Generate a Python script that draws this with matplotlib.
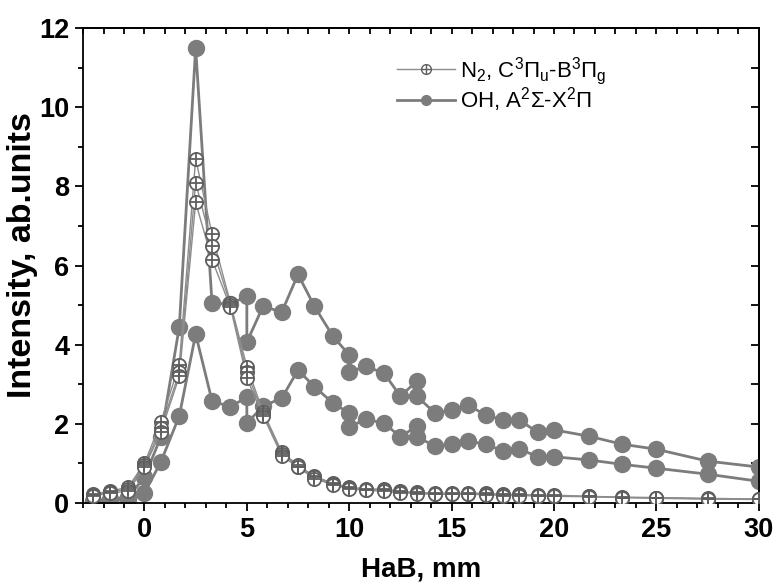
import numpy as np
import matplotlib.pyplot as plt
from matplotlib.ticker import MultipleLocator

plt.rcParams['font.family'] = ['Liberation Sans', 'DejaVu Sans']
plt.rcParams['mathtext.fontset'] = 'custom'
plt.rcParams['mathtext.rm'] = 'Liberation Sans'
plt.rcParams['mathtext.it'] = 'Liberation Sans'

# N2 emission (three measurements)
n2_x = [-2.5, -1.7, -0.8, 0, 0.8, 1.7, 2.5, 3.3, 4.2, 5.0, 5.8, 6.7, 7.5, 8.3, 9.2,
        10.0, 10.8, 11.7, 12.5, 13.3, 14.2, 15.0, 15.8, 16.7, 17.5, 18.3, 19.2,
        20.0, 21.7, 23.3, 25.0, 27.5, 30.0]
n2_a = [0.22, 0.30, 0.40, 1.00, 2.05, 3.50, 8.70, 6.80, 5.05, 3.45, 2.30, 1.30, 0.95,
        0.68, 0.50, 0.40, 0.36, 0.35, 0.30, 0.27, 0.25, 0.25, 0.25, 0.25, 0.22, 0.22,
        0.20, 0.20, 0.17, 0.15, 0.14, 0.12, 0.10]
n2_b = [0.20, 0.28, 0.35, 0.95, 1.90, 3.30, 8.10, 6.50, 5.00, 3.30, 2.25, 1.25, 0.92,
        0.65, 0.48, 0.38, 0.34, 0.33, 0.28, 0.25, 0.23, 0.23, 0.23, 0.23, 0.20, 0.20,
        0.19, 0.18, 0.17, 0.14, 0.13, 0.11, 0.10]
n2_c = [0.18, 0.25, 0.30, 0.90, 1.80, 3.20, 7.60, 6.15, 4.95, 3.15, 2.20, 1.20, 0.90,
        0.62, 0.46, 0.36, 0.32, 0.30, 0.26, 0.24, 0.22, 0.22, 0.22, 0.21, 0.19, 0.19,
        0.18, 0.17, 0.16, 0.14, 0.12, 0.10, 0.09]

# OH emission (two measurements, repeated points where scan ranges join)
oh_x = [-2.5, -1.7, -0.8, 0, 0.8, 1.7, 2.5, 3.3, 4.2, 5.0, 5.0, 5.8, 6.7, 7.5, 8.3,
        9.2, 10.0, 10.0, 10.8, 11.7, 12.5, 13.3, 13.3, 14.2, 15.0, 15.8, 16.7, 17.5,
        18.3, 19.2, 20.0, 21.7, 23.3, 25.0, 27.5, 30.0]
oh_a = [0.05, 0.10, 0.15, 0.65, 1.67, 4.45, 11.5, 5.05, 5.03, 5.23, 4.07, 4.98, 4.82,
        5.78, 4.97, 4.22, 3.74, 3.30, 3.46, 3.28, 2.70, 3.08, 2.70, 2.27, 2.35, 2.47,
        2.22, 2.10, 2.10, 1.79, 1.85, 1.69, 1.49, 1.36, 1.06, 0.91]
oh_b = [0.03, 0.05, 0.10, 0.25, 1.04, 2.20, 4.27, 2.58, 2.43, 2.68, 2.02, 2.45, 2.65,
        3.36, 2.94, 2.53, 2.27, 1.92, 2.12, 2.02, 1.67, 1.95, 1.67, 1.44, 1.50, 1.56,
        1.49, 1.31, 1.37, 1.17, 1.17, 1.09, 0.98, 0.88, 0.73, 0.55]

fig = plt.figure(figsize=(7.79, 5.87), dpi=100)
ax = fig.add_axes([0.1066, 0.143, 0.8674, 0.809])

oh_col = '#7c7c7c'
n2_col = '#5e5e5e'

for y in [oh_a, oh_b]:
    ax.plot(oh_x, y, '-', color=oh_col, lw=2.0, marker='o', ms=11.5,
            mfc=oh_col, mec=oh_col, zorder=2)

for y in [n2_a, n2_b, n2_c]:
    ax.plot(n2_x, y, '-', color='#8c8c8c', lw=1.0, zorder=3)
    ax.plot(n2_x, y, 'o', ms=9.5, mfc='white', mec=n2_col, mew=1.3, zorder=4)
    ax.plot(n2_x, y, '+', ms=9.5, mec=n2_col, mew=1.3, zorder=5)

# legend handles (smaller markers)
lg_n2_line, = ax.plot([], [], '-', color='#8c8c8c', lw=1.0)
lg_n2_o, = ax.plot([], [], 'o', ms=7, mfc='white', mec=n2_col, mew=1.0)
lg_n2_p, = ax.plot([], [], '+', ms=7, mec=n2_col, mew=1.0)
lg_oh, = ax.plot([], [], '-', color=oh_col, lw=2.0, marker='o', ms=7, mfc=oh_col, mec=oh_col)

ax.legend([(lg_n2_line, lg_n2_o, lg_n2_p), lg_oh],
          [r'N$_2$, C$^3\Pi_u$-B$^3\Pi_g$', r'OH, A$^2\Sigma$-X$^2\Pi$'],
          loc='upper left', bbox_to_anchor=(0.435, 0.985), frameon=False,
          fontsize=16, handlelength=2.6, handletextpad=0.25, labelspacing=-0.1)

ax.set_xlim(-3, 30)
ax.set_ylim(0, 12)
ax.xaxis.set_major_locator(MultipleLocator(5))
ax.xaxis.set_minor_locator(MultipleLocator(1))
ax.yaxis.set_major_locator(MultipleLocator(2))
ax.yaxis.set_minor_locator(MultipleLocator(1))

ax.tick_params(which='both', direction='out', top=False, right=False, width=1.3)
ax.tick_params(which='major', length=6, labelsize=19.5, pad=4)
ax.tick_params(which='minor', length=3.5)
for lab in ax.get_xticklabels() + ax.get_yticklabels():
    lab.set_fontweight('bold')

# mirrored ticks on top and right, pointing inward
top = ax.secondary_xaxis('top')
top.xaxis.set_major_locator(MultipleLocator(1))
top.tick_params(direction='in', length=4, width=1.3, labeltop=False)
right = ax.secondary_yaxis('right')
right.yaxis.set_major_locator(MultipleLocator(1))
right.tick_params(direction='in', length=6, width=1.3, labelright=False)
for a in [ax, top, right]:
    for s in a.spines.values():
        s.set_linewidth(1.3)

ax.set_xlabel('HaB, mm', fontsize=20, fontweight='bold', labelpad=10)
ax.set_ylabel('Intensity, ab.units', fontsize=24.5, fontweight='bold')
ax.yaxis.set_label_coords(-0.066, 0.522)

fig.savefig('out.png', dpi=100)
